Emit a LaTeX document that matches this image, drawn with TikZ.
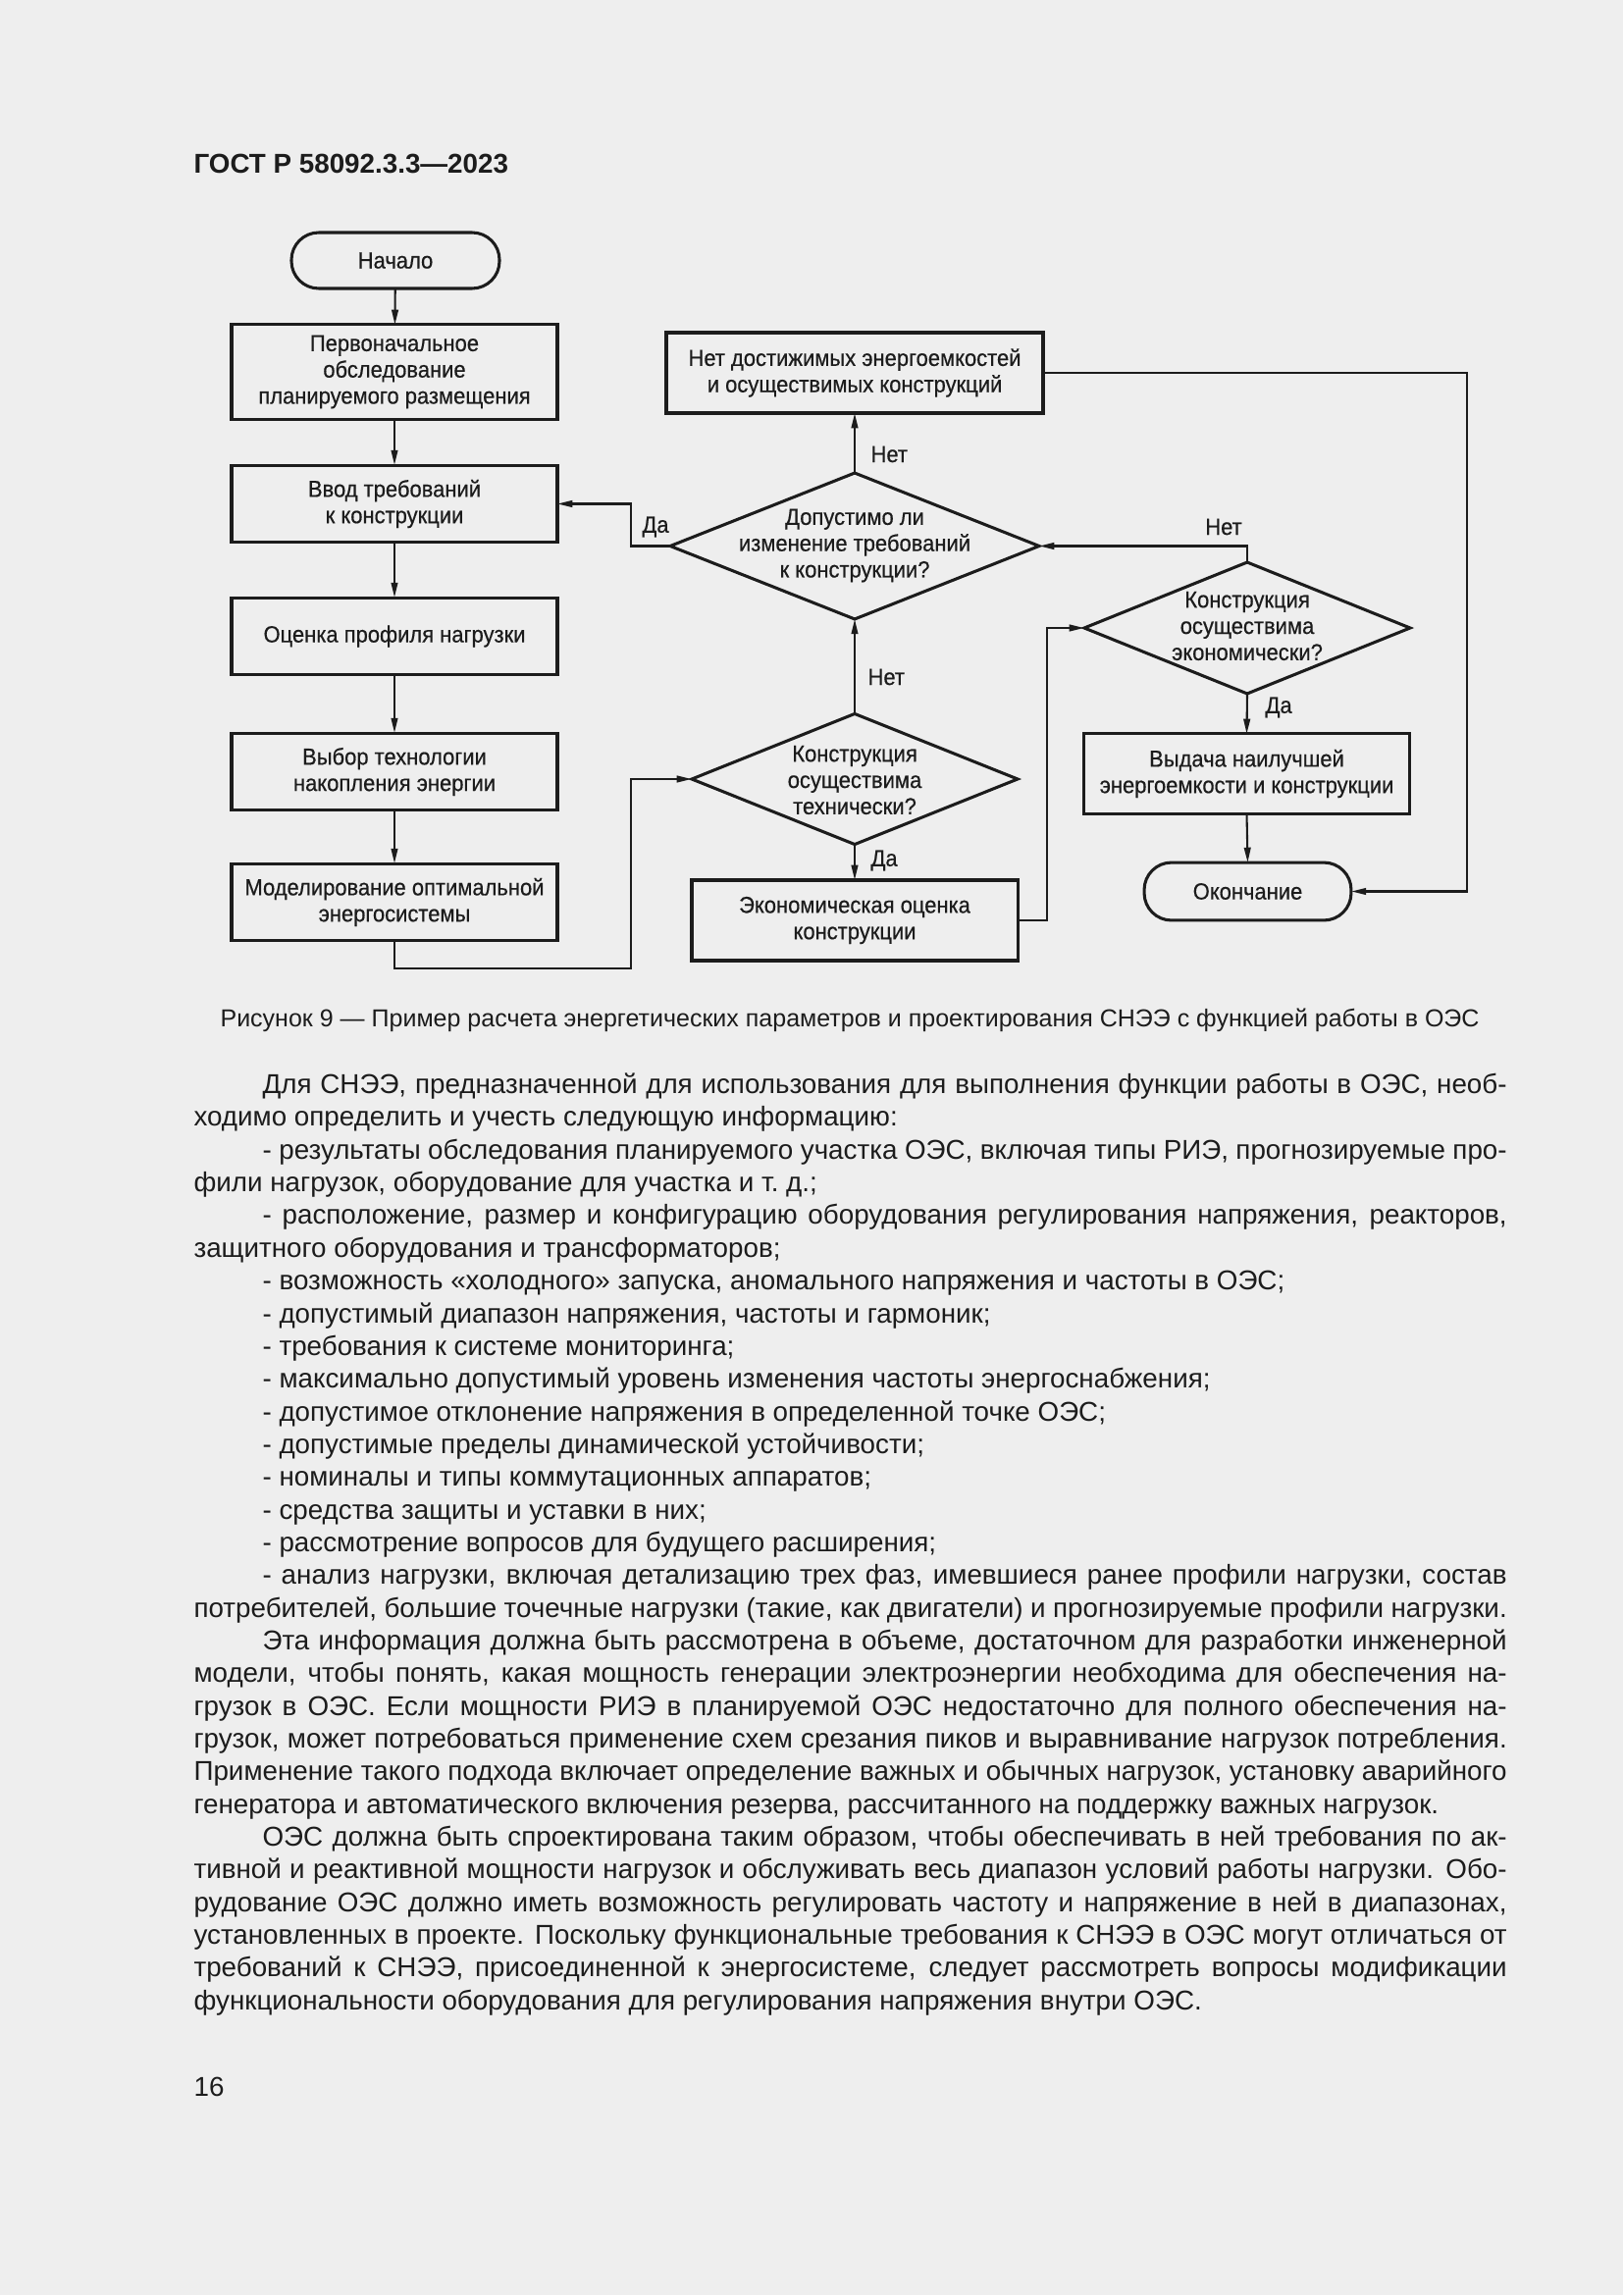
\documentclass[tikz,border=0pt]{standalone}
\usepackage{fontspec}
\setmainfont{Liberation Sans}
\newfontfamily\fcfam[FakeStretch=0.93,FakeBold=0.5]{Liberation Sans}
\usetikzlibrary{arrows.meta,shapes.geometric}
\definecolor{pagebg}{RGB}{238,238,238}
\definecolor{ink}{RGB}{28,28,28}
\newlength\bodyw \setlength\bodyw{481.6pt}
\newlength\parind \setlength\parind{25.2pt}
\newcommand\Jl[1]{\hbox to\bodyw{\strut#1}}
\newcommand\Ji[1]{\hbox to\bodyw{\strut\hskip\parind#1}}
\newcommand\Rl[1]{\hbox{\strut#1}}
\newcommand\Ri[1]{\hbox{\strut\hskip\parind#1}}
\newcommand\fcfont{\fcfam\fontsize{8.5}{9.65}\selectfont}
\newcommand\bodyfont{\fontsize{10}{12}\selectfont}
\begin{document}
\begin{tikzpicture}[x=0.35991pt,y=-0.35991pt,
  box/.style={draw=ink, line width=1.1pt, align=center, inner sep=0pt, outer sep=0pt, font=\fcfont, text=ink},
  term/.style={box, rounded corners=10pt},
  dia/.style={diamond, draw=ink, line width=1.1pt, inner sep=0pt, outer sep=0pt},
  conn/.style={draw=ink, line width=0.75pt, -{Triangle[length=5.5pt,width=2.4pt]}},
  lbl/.style={font=\fcfont, text=ink, inner sep=0pt, align=center}]
\fill[pagebg] (0,0) rectangle (1654,2339);
\useasboundingbox (0,0) rectangle (1654,2339);

% header
\node[anchor=base west, inner sep=0pt, text=ink, font=\bfseries\fontsize{10}{11}\selectfont] (hdr) at (197,177) {ГОСТ Р 58092.3.3—2023};

% left column
\node[term, minimum width=76.3pt, minimum height=20.5pt] (start) at (403,265.5) {Начало};
\node[box, minimum width=119.5pt, minimum height=34.6pt] (b1) at (402,379) {Первоначальное\\обследование\\планируемого размещения};
\node[box, minimum width=119.5pt, minimum height=28.4pt] (b2) at (402,513.5) {Ввод требований\\к конструкции};
\node[box, minimum width=119.5pt, minimum height=28.4pt] (b3) at (402,648.5) {Оценка профиля нагрузки};
\node[box, minimum width=119.5pt, minimum height=28.4pt] (b4) at (402,786.5) {Выбор технологии\\накопления энергии};
\node[box, minimum width=119.5pt, minimum height=28.4pt] (b5) at (402,919.5) {Моделирование оптимальной\\энергосистемы};

% middle column
\node[box, minimum width=138.2pt, minimum height=29.5pt] (net) at (871,380) {Нет достижимых энергоемкостей\\и осуществимых конструкций};
\node[dia, minimum width=135.3pt, minimum height=53.6pt] (d1) at (871,556.5) {};
\node[lbl] (d1t) at (871,556) {Допустимо ли\\изменение требований\\к конструкции?};
\node[dia, minimum width=119.5pt, minimum height=47.9pt] (d2) at (871,794) {};
\node[lbl] (d2t) at (871,795) {Конструкция\\осуществима\\технически?};
\node[box, minimum width=119.5pt, minimum height=29.5pt] (econ) at (871,938) {Экономическая оценка\\конструкции};

% right column
\node[dia, minimum width=119.5pt, minimum height=48.2pt] (d3) at (1271,640) {};
\node[lbl] (d3t) at (1271,638) {Конструкция\\осуществима\\экономически?};
\node[box, minimum width=119.8pt, minimum height=29.2pt] (vyd) at (1270.5,788.5) {Выдача наилучшей\\энергоемкости и конструкции};
\node[term, minimum width=75.9pt, minimum height=21.2pt] (fin) at (1271.5,908.5) {Окончание};

% junction coordinates
\coordinate (j1) at (643,987);

% connectors
\draw[conn] (start) -- (b1);
\draw[conn] (b1) -- (b2);
\draw[conn] (b2) -- (b3);
\draw[conn] (b3) -- (b4);
\draw[conn] (b4) -- (b5);
\draw[conn] (d1.west) -- ++(-40,0) |- (b2.east);
\draw[conn] (d1.north) -- (net.south);
\draw[conn] (d2.north) -- (d1.south);
\draw[conn] (d2.south) -- (econ.north);
\draw[conn] (b5.south) |- (j1) |- (d2.west);
\draw[conn] (econ.east) -- ++(30,0) |- (d3.west);
\draw[conn] (d3.north) |- (d1.east);
\draw[conn] (d3.south) -- (vyd.north);
\draw[conn] (vyd.south) -- (fin.north);
\draw[conn] (net.east) -- ++(432,0) |- (fin.east);

% connector labels
\node[lbl, anchor=center] (lda1) at (668,537) {Да};
\node[lbl, anchor=west] (lnet1) at (887,463) {Нет};
\node[lbl, anchor=west] (lnet2) at (884,690) {Нет};
\node[lbl, anchor=west] (lda2) at (887,877) {Да};
\node[lbl, anchor=center] (lnet3) at (1247,537) {Нет};
\node[lbl, anchor=west] (lda3) at (1289,721) {Да};

% caption
\node[anchor=base, inner sep=0pt, text=ink, font=\fontsize{9}{11}\selectfont] (cap) at (866,1046) {Рисунок 9 — Пример расчета энергетических параметров и проектирования СНЭЭ с функцией работы в ОЭС};

% body text
\node[anchor=north west, inner sep=0pt, text=ink, font=\bodyfont] (body) at (197,1090.7) {\vbox{%
\Ji{Для СНЭЭ, предназначенной для использования для выполнения функции работы в ОЭС, необ-}
\Rl{ходимо определить и учесть следующую информацию:}
\Ji{- результаты обследования планируемого участка ОЭС, включая типы РИЭ, прогнозируемые про-}
\Rl{фили нагрузок, оборудование для участка и т.~д.;}
\Ji{- расположение, размер и конфигурацию оборудования регулирования напряжения, реакторов,}
\Rl{защитного оборудования и трансформаторов;}
\Ri{- возможность «холодного» запуска, аномального напряжения и частоты в ОЭС;}
\Ri{- допустимый диапазон напряжения, частоты и гармоник;}
\Ri{- требования к системе мониторинга;}
\Ri{- максимально допустимый уровень изменения частоты энергоснабжения;}
\Ri{- допустимое отклонение напряжения в определенной точке ОЭС;}
\Ri{- допустимые пределы динамической устойчивости;}
\Ri{- номиналы и типы коммутационных аппаратов;}
\Ri{- средства защиты и уставки в них;}
\Ri{- рассмотрение вопросов для будущего расширения;}
\Ji{- анализ нагрузки, включая детализацию трех фаз, имевшиеся ранее профили нагрузки, состав}
\Jl{потребителей, большие точечные нагрузки (такие, как двигатели) и прогнозируемые профили нагрузки.}
\Ji{Эта информация должна быть рассмотрена в объеме, достаточном для разработки инженерной}
\Jl{модели, чтобы понять, какая мощность генерации электроэнергии необходима для обеспечения на-}
\Jl{грузок в ОЭС. Если мощности РИЭ в планируемой ОЭС недостаточно для полного обеспечения на-}
\Jl{грузок, может потребоваться применение схем срезания пиков и выравнивание нагрузок потребления.}
\Jl{Применение такого подхода включает определение важных и обычных нагрузок, установку аварийного}
\Rl{генератора и автоматического включения резерва, рассчитанного на поддержку важных нагрузок.}
\Ji{ОЭС должна быть спроектирована таким образом, чтобы обеспечивать в ней требования по ак-}
\Jl{тивной и реактивной мощности нагрузок и обслуживать весь диапазон условий работы нагрузки. Обо-}
\Jl{рудование ОЭС должно иметь возможность регулировать частоту и напряжение в ней в диапазонах,}
\Jl{установленных в проекте. Поскольку функциональные требования к СНЭЭ в ОЭС могут отличаться от}
\Jl{требований к СНЭЭ, присоединенной к энергосистеме, следует рассмотреть вопросы модификации}
\Rl{функциональности оборудования для регулирования напряжения внутри ОЭС.}}};

% page number
\node[anchor=base west, inner sep=0pt, text=ink, font=\bodyfont] (pg) at (197,2136) {16};
\end{tikzpicture}
\end{document}
